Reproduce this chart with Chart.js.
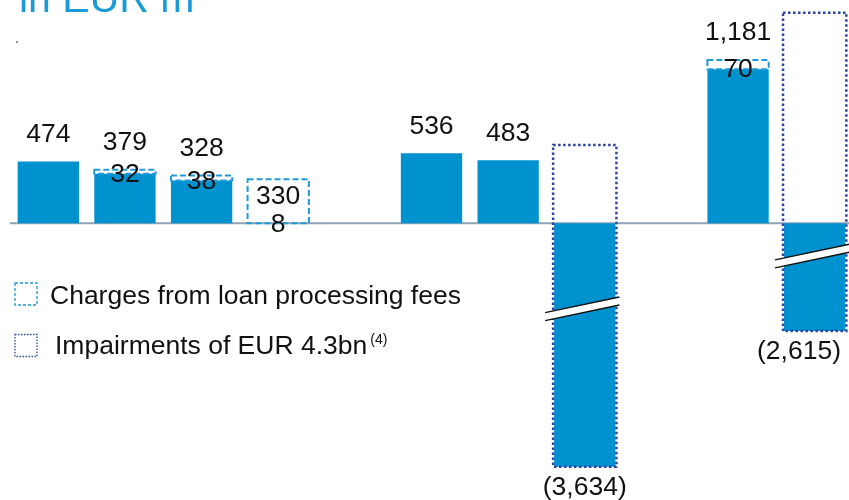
<!DOCTYPE html>
<html>
<head>
<meta charset="utf-8">
<script src="https://cdn.jsdelivr.net/npm/chart.js@4.4.1/dist/chart.umd.min.js"></script>
<style>
  html, body { margin: 0; padding: 0; background: #fff; overflow: hidden; }
  #wrap { position: relative; width: 853px; height: 500px; }
</style>
</head>
<body>
<div id="wrap"><canvas id="chart"></canvas></div>
<script>
const slots = ['p1', 'p2', 'p3', 'p4', 'gap1', 'p5', 'p6', 'p7', 'gap2', 'p8', 'p9']
const results = [474, 379, 328, 330, null, 536, 483, -3634, null, 1181, -2615]
const charges = [null, 32, 38, 8, null, null, null, null, null, 70, null]
// solid bars as drawn; the two loss bars are cut short by the axis break
const drawn = [474, 379, 328, null, null, 536, 483, -1865, null, 1181, -825]
const impairmentTop = [null, null, null, null, null, null, null, 600, null, null, 1614]
const breakAt = [null, null, null, null, null, null, null, -651, null, null, -247]
const legendItems = ['Charges from loan processing fees', 'Impairments of EUR 4.3bn']
const title = 'in EUR m'

const BLUE = '#0091cf'
const LIGHT = '#1f9bd7'
const NAVY = '#2c44a4'
const FONT = '"Liberation Sans", Arial, sans-serif'

const fmt = v => v < 0 ? '(' + Math.abs(v).toLocaleString('en-US') + ')' : v.toLocaleString('en-US')

const chargeBoxes = charges.map((c, i) => c == null ? null
    : (drawn[i] == null ? [0, results[i] + c] : [results[i], results[i] + c]))
const impairBoxes = impairmentTop.map((t, i) => t == null ? null : [drawn[i], t])

const overlay = {
    id: 'overlay',
    beforeDatasetsDraw(chart) {
        const ctx = chart.ctx
        const y0 = chart.scales.y.getPixelForValue(0)
        ctx.save()
        ctx.strokeStyle = '#8fa2b6'
        ctx.lineWidth = 2
        ctx.beginPath()
        ctx.moveTo(10, y0)
        ctx.lineTo(chart.width, y0)
        ctx.stroke()
        ctx.restore()
    },
    afterDatasetsDraw(chart) {
        const ctx = chart.ctx
        const ys = chart.scales.y
        const xs = chart.scales.x
        ctx.save()

        // dashed boxes: loan processing fee charges
        chart.getDatasetMeta(1).data.forEach((el, i) => {
            if (chargeBoxes[i] == null) return
            const p = el.getProps(['x', 'y', 'base', 'width'], true)
            ctx.setLineDash([6, 3])
            ctx.lineWidth = 2
            ctx.strokeStyle = LIGHT
            ctx.strokeRect(p.x - p.width / 2, p.y, p.width, p.base - p.y)
        })

        // dotted boxes: impairments
        chart.getDatasetMeta(2).data.forEach((el, i) => {
            if (impairBoxes[i] == null) return
            const p = el.getProps(['x', 'y', 'base', 'width'], true)
            ctx.setLineDash([2.5, 2.5])
            ctx.lineWidth = 2.5
            ctx.strokeStyle = NAVY
            ctx.strokeRect(p.x - p.width / 2 - 1, p.y, p.width + 2, p.base - p.y)
        })
        ctx.setLineDash([])

        // axis break marks
        breakAt.forEach((b, i) => {
            if (b == null) return
            const cx = xs.getPixelForValue(i)
            const cy = ys.getPixelForValue(b)
            const half = xs.getPixelForValue(1) - xs.getPixelForValue(0)
            const x0 = cx - 0.8 * half / 2 - 9
            const x1 = cx + 0.8 * half / 2 + 4
            const yAt = x => cy - (x - cx) * 0.21
            ctx.fillStyle = '#fff'
            ctx.beginPath()
            ctx.moveTo(x0, yAt(x0) - 4)
            ctx.lineTo(x1, yAt(x1) - 4)
            ctx.lineTo(x1, yAt(x1) + 4)
            ctx.lineTo(x0, yAt(x0) + 4)
            ctx.closePath()
            ctx.fill()
            ctx.strokeStyle = '#111'
            ctx.lineWidth = 1.4
            for (const off of [-4, 4]) {
                ctx.beginPath()
                ctx.moveTo(x0, yAt(x0) + off)
                ctx.lineTo(x1, yAt(x1) + off)
                ctx.stroke()
            }
        })

        // value labels
        ctx.fillStyle = '#111'
        ctx.font = '26.5px ' + FONT
        ctx.textAlign = 'center'
        ctx.textBaseline = 'middle'
        results.forEach((v, i) => {
            if (v == null) return
            const x = xs.getPixelForValue(i)
            const txt = fmt(v)
            if (v < 0) {
                const w = ctx.measureText(txt).width
                const cx = Math.min(x, 849 - 8 - w / 2)
                ctx.fillText(txt, cx, ys.getPixelForValue(drawn[i]) + 21)
            } else if (drawn[i] == null) {
                const top = ys.getPixelForValue(chargeBoxes[i][1])
                const bottom = ys.getPixelForValue(0)
                ctx.fillText(txt, x, (top + bottom) / 2 - 5)
            } else {
                const top = v + (charges[i] || 0)
                ctx.fillText(txt, x, ys.getPixelForValue(top) - 27)
            }
            if (charges[i] != null) {
                ctx.fillText(String(charges[i]), x, ys.getPixelForValue(drawn[i] == null ? 0 : v) + 1)
            }
        })
        ctx.restore()
    },
    afterDraw(chart) {
        const ctx = chart.ctx
        ctx.save()
        // title, cut off by the top edge
        ctx.fillStyle = '#1a9ad6'
        ctx.font = '41px ' + FONT
        ctx.textAlign = 'left'
        ctx.textBaseline = 'alphabetic'
        ctx.fillText(title, 19, 12)
        ctx.fillStyle = '#8a97a8'
        ctx.fillRect(16, 41, 2, 2)

        // legend
        ctx.lineWidth = 1.3
        ctx.strokeStyle = LIGHT
        ctx.setLineDash([3, 2])
        ctx.strokeRect(15, 283, 22, 22)
        ctx.strokeStyle = NAVY
        ctx.setLineDash([1.5, 1.5])
        ctx.strokeRect(15, 334.5, 22, 22)
        ctx.setLineDash([])
        ctx.fillStyle = '#111'
        ctx.font = '26.5px ' + FONT
        ctx.textBaseline = 'middle'
        ctx.fillText(legendItems[0], 50, 297)
        ctx.fillText(legendItems[1], 55, 347)
        const w = ctx.measureText(legendItems[1]).width
        ctx.font = '14px ' + FONT
        ctx.fillText('(4)', 55 + w + 3, 340)
        ctx.restore()
    }
}

new Chart(document.getElementById('chart'), {
    type: 'bar',
    data: {
        labels: slots,
        datasets: [
            {
                label: 'Result',
                data: drawn,
                backgroundColor: BLUE,
                borderWidth: 0,
                grouped: false,
                order: 3
            },
            {
                label: legendItems[0],
                data: chargeBoxes,
                backgroundColor: 'rgba(0,0,0,0)',
                borderWidth: 0,
                grouped: false
            },
            {
                label: legendItems[1],
                data: impairBoxes,
                backgroundColor: 'rgba(0,0,0,0)',
                borderWidth: 0,
                grouped: false
            }
        ]
    },
    options: {
        responsive: true,
        maintainAspectRatio: false,
        animation: false,
        layout: { padding: { left: 10, right: 0, top: 0, bottom: 0 } },
        datasets: { bar: { categoryPercentage: 1, barPercentage: 0.8 } },
        plugins: {
            legend: { display: false },
            tooltip: { enabled: false }
        },
        scales: {
            x: { display: false },
            y: { display: false, min: -2120, max: 1711 }
        }
    },
    plugins: [overlay]
})
</script>
</body>
</html>
